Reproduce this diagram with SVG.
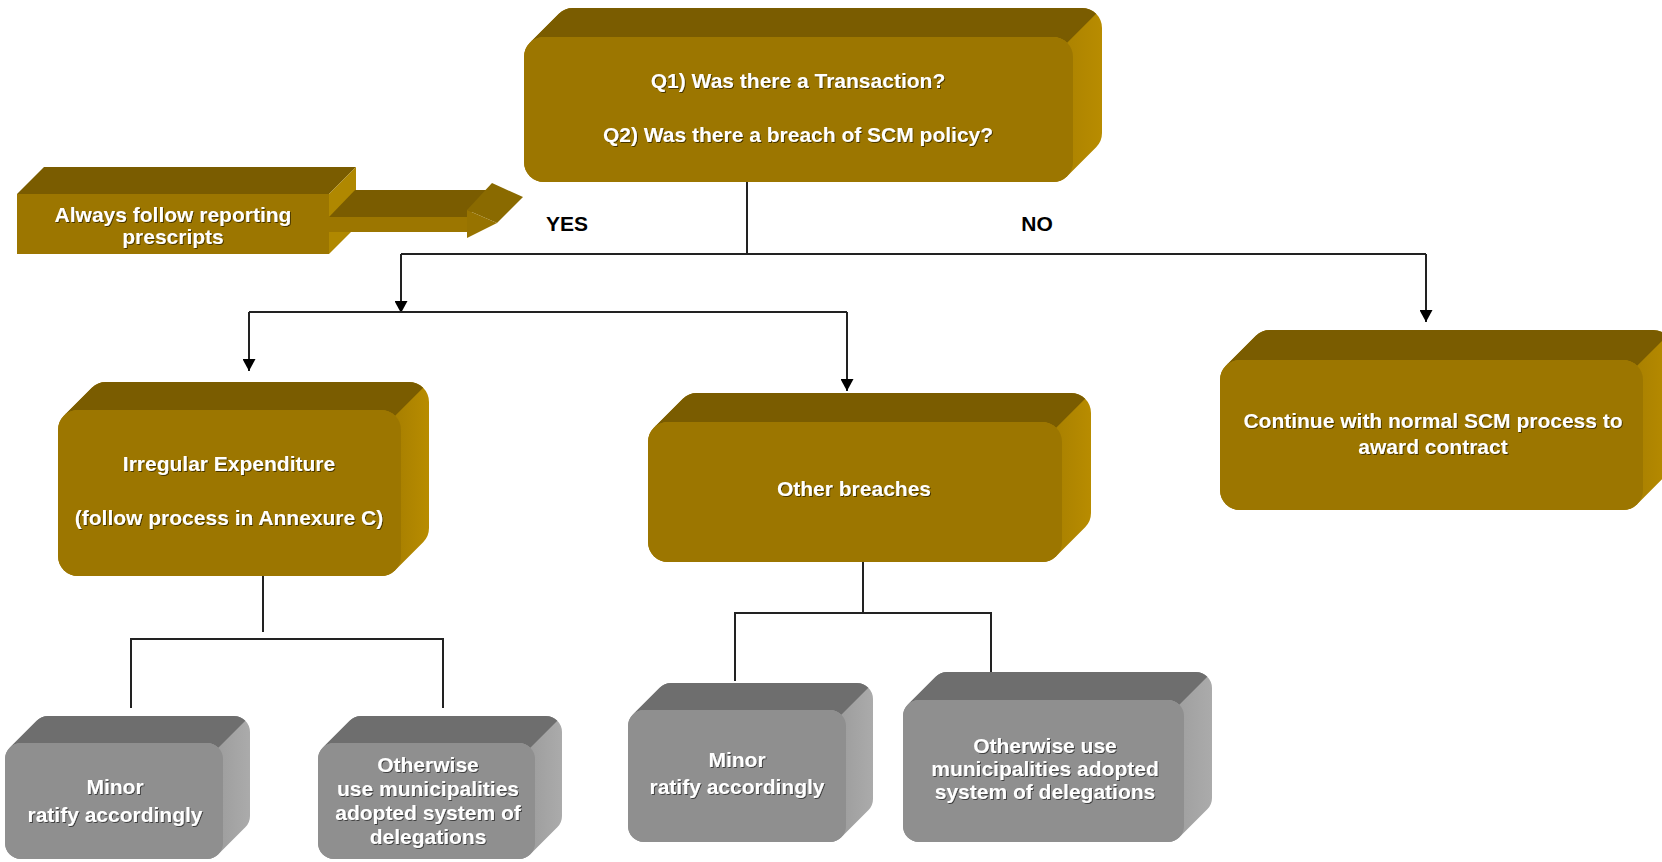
<svg xmlns="http://www.w3.org/2000/svg" width="1662" height="862" viewBox="0 0 1662 862">
<defs>
<style>
.t{font-family:"Liberation Sans",Arial,sans-serif;font-weight:bold;font-size:21px;fill:#fff;text-anchor:middle;filter:url(#sh)}
.lbl{font-family:"Liberation Sans",Arial,sans-serif;font-weight:bold;font-size:21px;fill:#000;text-anchor:middle}
.gf{fill:#9C7600}
.gt{fill:#7A5C00}
.gr{fill:url(#gold-side)}
.sf{fill:#8F8F8F}
.st{fill:#6E6E6E}
.sr{fill:url(#grey-side)}
.ln{fill:none;stroke:#222;stroke-width:2}
.arr{marker-end:url(#ah)}
</style>
<linearGradient id="gold-side" x1="0" y1="0" x2="1" y2="0">
<stop offset="0.88" stop-color="#A27B00"/>
<stop offset="1" stop-color="#B88C00"/>
</linearGradient>
<linearGradient id="grey-side" x1="0" y1="0" x2="1" y2="0">
<stop offset="0.82" stop-color="#989898"/>
<stop offset="1" stop-color="#ABABAB"/>
</linearGradient>
<filter id="sh" x="-10%" y="-30%" width="120%" height="160%">
<feDropShadow dx="1" dy="1" stdDeviation="0.6" flood-color="#000" flood-opacity="0.55"/>
</filter>
<marker id="ah" viewBox="0 -6.5 12 13" refX="12" refY="0" markerWidth="12" markerHeight="13" markerUnits="userSpaceOnUse" orient="auto">
<path d="M0,-6.5 L12,0 L0,6.5 Z" fill="#000"/>
</marker>
</defs>
<rect width="1662" height="862" fill="#fff"/>

<g id="connectors">
<path class="ln" d="M747,182 V254"/>
<path class="ln" d="M401,254 H1426"/>
<path class="ln arr" d="M401,254 V313"/>
<path class="ln arr" d="M1426,254 V322"/>
<path class="ln" d="M249,312 H847"/>
<path class="ln arr" d="M249,312 V371"/>
<path class="ln arr" d="M847,312 V391"/>
<path class="ln" d="M263,576 V632"/>
<path class="ln" d="M131,708 V639 H443 V708"/>
<path class="ln" d="M863,562 V612"/>
<path class="ln" d="M735,681 V613 H991 V672"/>
</g>

<g id="question" transform="translate(524,37)">
<path class="gr" d="M5.86,5.86 l29,-29 a20,20 0 0 1 14.14,-5.86 h509 a20,20 0 0 1 20,20 v105 a20,20 0 0 1 -5.86,14.14 l-29,29 a20,20 0 0 1 -14.14,5.86 h-509 a20,20 0 0 1 -20,-20 v-105 a20,20 0 0 1 5.86,-14.14 z"/>
<path class="gt" d="M5.86,5.86 l29,-29 a20,20 0 0 1 14.14,-5.86 h509 a20,20 0 0 1 14.14,5.86 l-29,29 a20,20 0 0 0 -14.14,-5.86 h-509 a20,20 0 0 0 -14.14,5.86 z"/>
<rect class="gf" x="0" y="0" width="549" height="145" rx="20"/>
<text class="t" x="274" y="50.5">Q1) Was there a Transaction?</text>
<text class="t" x="274" y="104.5">Q2) Was there a breach of SCM policy?</text>
</g>

<g id="reporting">
<polygon class="gt" points="17,194 44,167 356,167 329,194"/>
<polygon fill="#B08800" points="329,194 356,167 356,227 329,254"/>
<polygon class="gt" points="329,217 355,190 492,190 467,217"/>
<rect class="gf" x="329" y="217" width="138" height="15"/>
<polygon fill="#8A6A00" points="467,210 492,183 523,197 497,223"/>
<polygon fill="#977300" points="467,210 497,223 467,238"/>
<rect class="gf" x="17" y="194" width="312" height="60"/>
<text class="t" x="173" y="221.5">Always follow reporting</text>
<text class="t" x="173" y="243.5">prescripts</text>
</g>

<g id="labels">
<text class="lbl" x="567" y="230.5">YES</text>
<text class="lbl" x="1037" y="230.5">NO</text>
</g>

<g id="irregular" transform="translate(58,410)">
<path class="gr" d="M5.86,5.86 l28,-28 a20,20 0 0 1 14.14,-5.86 h303 a20,20 0 0 1 20,20 v126 a20,20 0 0 1 -5.86,14.14 l-28,28 a20,20 0 0 1 -14.14,5.86 h-303 a20,20 0 0 1 -20,-20 v-126 a20,20 0 0 1 5.86,-14.14 z"/>
<path class="gt" d="M5.86,5.86 l28,-28 a20,20 0 0 1 14.14,-5.86 h303 a20,20 0 0 1 14.14,5.86 l-28,28 a20,20 0 0 0 -14.14,-5.86 h-303 a20,20 0 0 0 -14.14,5.86 z"/>
<rect class="gf" x="0" y="0" width="343" height="166" rx="20"/>
<text class="t" x="171" y="60.5">Irregular Expenditure</text>
<text class="t" x="171" y="114.5">(follow process in Annexure C)</text>
</g>

<g id="other-breaches" transform="translate(648,422)">
<path class="gr" d="M5.86,5.86 l29,-29 a20,20 0 0 1 14.14,-5.86 h374 a20,20 0 0 1 20,20 v100 a20,20 0 0 1 -5.86,14.14 l-29,29 a20,20 0 0 1 -14.14,5.86 h-374 a20,20 0 0 1 -20,-20 v-100 a20,20 0 0 1 5.86,-14.14 z"/>
<path class="gt" d="M5.86,5.86 l29,-29 a20,20 0 0 1 14.14,-5.86 h374 a20,20 0 0 1 14.14,5.86 l-29,29 a20,20 0 0 0 -14.14,-5.86 h-374 a20,20 0 0 0 -14.14,5.86 z"/>
<rect class="gf" x="0" y="0" width="414" height="140" rx="20"/>
<text class="t" x="206" y="73.5">Other breaches</text>
</g>

<g id="continue" transform="translate(1220,360)">
<path class="gr" d="M5.86,5.86 l30,-30 a20,20 0 0 1 14.14,-5.86 h383 a20,20 0 0 1 20,20 v110 a20,20 0 0 1 -5.86,14.14 l-30,30 a20,20 0 0 1 -14.14,5.86 h-383 a20,20 0 0 1 -20,-20 v-110 a20,20 0 0 1 5.86,-14.14 z"/>
<path class="gt" d="M5.86,5.86 l30,-30 a20,20 0 0 1 14.14,-5.86 h383 a20,20 0 0 1 14.14,5.86 l-30,30 a20,20 0 0 0 -14.14,-5.86 h-383 a20,20 0 0 0 -14.14,5.86 z"/>
<rect class="gf" x="0" y="0" width="423" height="150" rx="20"/>
<text class="t" x="213" y="67.5">Continue with normal SCM process to</text>
<text class="t" x="213" y="93.5">award contract</text>
</g>

<g id="minor-1" transform="translate(5,743)">
<path class="sr" d="M4.69,4.69 l27,-27 a16,16 0 0 1 11.31,-4.69 h186 a16,16 0 0 1 16,16 v84 a16,16 0 0 1 -4.69,11.31 l-27,27 a16,16 0 0 1 -11.31,4.69 h-186 a16,16 0 0 1 -16,-16 v-84 a16,16 0 0 1 4.69,-11.31 z"/>
<path class="st" d="M4.69,4.69 l27,-27 a16,16 0 0 1 11.31,-4.69 h186 a16,16 0 0 1 11.31,4.69 l-27,27 a16,16 0 0 0 -11.31,-4.69 h-186 a16,16 0 0 0 -11.31,4.69 z"/>
<rect class="sf" x="0" y="0" width="218" height="116" rx="16"/>
<text class="t" x="110" y="50.5">Minor</text>
<text class="t" x="110" y="78.5">ratify accordingly</text>
</g>

<g id="otherwise-1" transform="translate(318,743)">
<path class="sr" d="M4.69,4.69 l27,-27 a16,16 0 0 1 11.31,-4.69 h185 a16,16 0 0 1 16,16 v84 a16,16 0 0 1 -4.69,11.31 l-27,27 a16,16 0 0 1 -11.31,4.69 h-185 a16,16 0 0 1 -16,-16 v-84 a16,16 0 0 1 4.69,-11.31 z"/>
<path class="st" d="M4.69,4.69 l27,-27 a16,16 0 0 1 11.31,-4.69 h185 a16,16 0 0 1 11.31,4.69 l-27,27 a16,16 0 0 0 -11.31,-4.69 h-185 a16,16 0 0 0 -11.31,4.69 z"/>
<rect class="sf" x="0" y="0" width="217" height="116" rx="16"/>
<text class="t" x="110" y="28.5">Otherwise</text>
<text class="t" x="110" y="52.5">use municipalities</text>
<text class="t" x="110" y="76.5">adopted system of</text>
<text class="t" x="110" y="100.5">delegations</text>
</g>

<g id="minor-2" transform="translate(628,710)">
<path class="sr" d="M4.69,4.69 l27,-27 a16,16 0 0 1 11.31,-4.69 h186 a16,16 0 0 1 16,16 v100 a16,16 0 0 1 -4.69,11.31 l-27,27 a16,16 0 0 1 -11.31,4.69 h-186 a16,16 0 0 1 -16,-16 v-100 a16,16 0 0 1 4.69,-11.31 z"/>
<path class="st" d="M4.69,4.69 l27,-27 a16,16 0 0 1 11.31,-4.69 h186 a16,16 0 0 1 11.31,4.69 l-27,27 a16,16 0 0 0 -11.31,-4.69 h-186 a16,16 0 0 0 -11.31,4.69 z"/>
<rect class="sf" x="0" y="0" width="218" height="132" rx="16"/>
<text class="t" x="109" y="56.5">Minor</text>
<text class="t" x="109" y="83.5">ratify accordingly</text>
</g>

<g id="otherwise-2" transform="translate(903,700)">
<path class="sr" d="M4.69,4.69 l28,-28 a16,16 0 0 1 11.31,-4.69 h249 a16,16 0 0 1 16,16 v110 a16,16 0 0 1 -4.69,11.31 l-28,28 a16,16 0 0 1 -11.31,4.69 h-249 a16,16 0 0 1 -16,-16 v-110 a16,16 0 0 1 4.69,-11.31 z"/>
<path class="st" d="M4.69,4.69 l28,-28 a16,16 0 0 1 11.31,-4.69 h249 a16,16 0 0 1 11.31,4.69 l-28,28 a16,16 0 0 0 -11.31,-4.69 h-249 a16,16 0 0 0 -11.31,4.69 z"/>
<rect class="sf" x="0" y="0" width="281" height="142" rx="16"/>
<text class="t" x="142" y="52.5">Otherwise use</text>
<text class="t" x="142" y="75.5">municipalities adopted</text>
<text class="t" x="142" y="98.5">system of delegations</text>
</g>
</svg>
